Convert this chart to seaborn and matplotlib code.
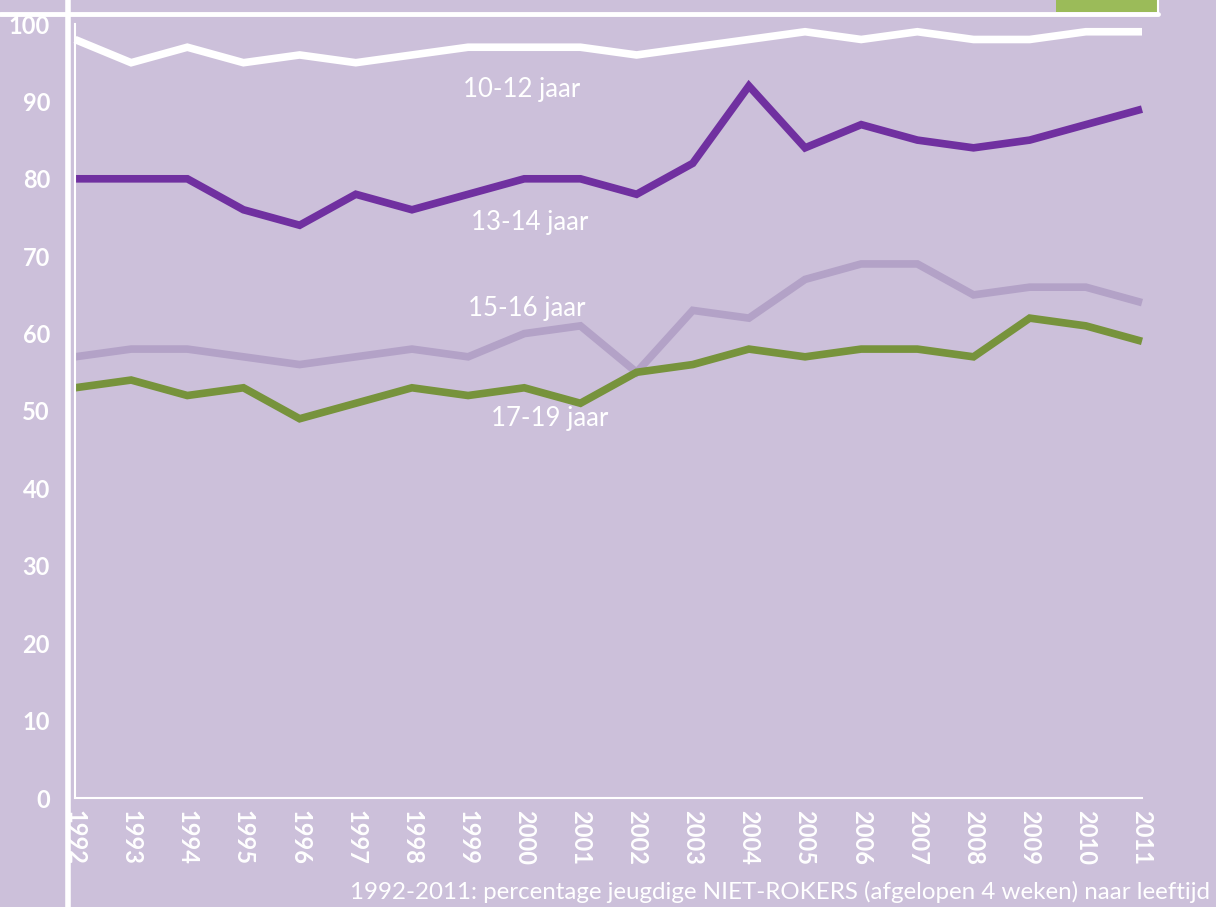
import matplotlib
matplotlib.use("Agg")
import matplotlib.pyplot as plt
from matplotlib.lines import Line2D
from matplotlib.patches import Rectangle
import seaborn as sns
import pandas as pd

years = list(range(1992, 2012))
age_10_12 = [98, 95, 97, 95, 96, 95, 96, 97, 97, 97, 96, 97, 98, 99, 98, 99, 98, 98, 99, 99]
age_13_14 = [80, 80, 80, 76, 74, 78, 76, 78, 80, 80, 78, 82, 92, 84, 87, 85, 84, 85, 87, 89]
age_15_16 = [57, 58, 58, 57, 56, 57, 58, 57, 60, 61, 55, 63, 62, 67, 69, 69, 65, 66, 66, 64]
age_17_19 = [53, 54, 52, 53, 49, 51, 53, 52, 53, 51, 55, 56, 58, 57, 58, 58, 57, 62, 61, 59]
series_names = ["10-12 jaar", "13-14 jaar", "15-16 jaar", "17-19 jaar"]
y_ticks = [0, 10, 20, 30, 40, 50, 60, 70, 80, 90, 100]
caption = "1992-2011: percentage jeugdige NIET-ROKERS (afgelopen 4 weken) naar leeftijd"

df = pd.concat([
    pd.DataFrame({"jaar": years, "pct": vals, "groep": name})
    for name, vals in zip(series_names, [age_10_12, age_13_14, age_15_16, age_17_19])
])

bg = "#CCC0DA"
palette = {"10-12 jaar": "#FFFFFF", "13-14 jaar": "#7030A0",
           "15-16 jaar": "#B3A2C7", "17-19 jaar": "#77933C"}

sns.set_theme(style="white")
plt.rcParams["font.family"] = ["Lato", "DejaVu Sans"]

fig = plt.figure(figsize=(12.16, 9.07), dpi=100, facecolor=bg)
ax = fig.add_axes([75/1216, 1 - 798/907, (1142 - 75)/1216, (798 - 24)/907])
ax.set_facecolor(bg)

sns.lineplot(data=df, x="jaar", y="pct", hue="groep", palette=palette,
             linewidth=5.5, ax=ax, legend=False, clip_on=False)
for l in ax.lines:
    l.set_solid_joinstyle("miter")
    l.set_solid_capstyle("butt")

ax.set_xlim(1992, 2011)
ax.set_ylim(0, 100)
ax.set_xticks(years)
ax.set_xticklabels([str(y) for y in years], rotation=-90, fontweight="bold",
                   fontsize=17, color="white")
ax.set_yticks(y_ticks)
ax.set_yticklabels([str(t) for t in y_ticks], fontweight="bold", fontsize=17, color="white")
ax.tick_params(axis="both", direction="in", length=6, width=1.5, color="white")
ax.tick_params(axis="y", pad=18)
ax.tick_params(axis="x", pad=9)
for s in ["top", "right"]:
    ax.spines[s].set_visible(False)
for s in ["left", "bottom"]:
    ax.spines[s].set_color("white")
    ax.spines[s].set_linewidth(1.5)
ax.set_xlabel("")
ax.set_ylabel("")
ax.grid(False)

# series labels
label_pos = {"10-12 jaar": (1999.95, 91.5), "13-14 jaar": (2000.1, 74.3),
             "15-16 jaar": (2000.05, 63.3), "17-19 jaar": (2000.45, 49.0)}
for name in series_names:
    x, y = label_pos[name]
    ax.text(x, y, name, color="white", fontsize=18.5, ha="center", va="center")

# decorations
fig.add_artist(Line2D([68/1216, 68/1216], [0, 1], color="white", linewidth=4,
                      transform=fig.transFigure))
fig.add_artist(Line2D([0, 1158/1216], [1 - 14/907, 1 - 14/907], color="white",
                      linewidth=3.5, transform=fig.transFigure))
fig.add_artist(Rectangle((1056/1216, 1 - 12/907), (1158 - 1056)/1216, 12/907,
                         facecolor="#9BBB59", edgecolor="none",
                         transform=fig.transFigure))
fig.add_artist(Line2D([1158/1216, 1158/1216], [1 - 15/907, 1], color="white",
                      linewidth=1.5, transform=fig.transFigure))

fig.text(1210/1216, 1 - 899/907, caption, color="white", fontsize=17.4,
         ha="right", va="baseline")

fig.savefig("out.png", dpi=100, facecolor=bg)
